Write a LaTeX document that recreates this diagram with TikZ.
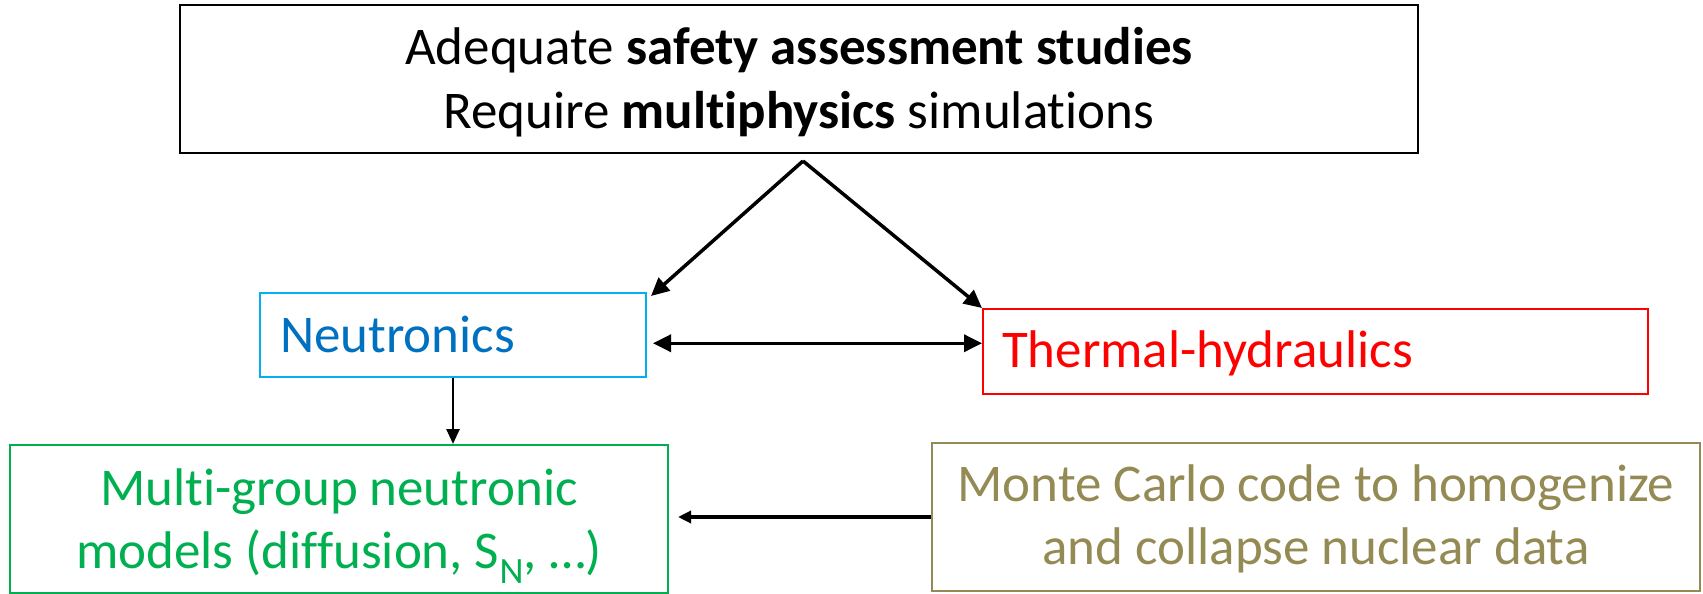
\documentclass[tikz,border=0pt]{standalone}
\usepackage{fontspec}
\setmainfont{Carlito}[Ligatures=NoCommon]
\usetikzlibrary{arrows.meta,calc}
\definecolor{neutline}{HTML}{00B0F0}
\definecolor{neuttext}{HTML}{0070C0}
\definecolor{multigreen}{HTML}{00B050}
\definecolor{mcolive}{HTML}{948A54}
\begin{document}
\begin{tikzpicture}[x=1pt, y=-1pt,
    box/.style = {draw, line width=2pt, inner sep=0pt, align=center, text height=98pt, text depth=0pt,
        font=\fontsize{53}{63}\selectfont},
    single/.style = {align=left, text height=34pt, text depth=0pt},
    link/.style = {line width=3.5pt, -{Triangle[length=18pt, width=17pt]}}]
        \useasboundingbox (0,0) rectangle (1703,594);
        \node[box, minimum width=1238pt, minimum height=148pt] (safety) at (799,79)
            {Adequate \textbf{safety assessment studies}\\Require \textbf{multiphysics} simulations};
        \node[box, single, draw=neutline, text=neuttext, text width=346pt, inner xsep=20pt,
            minimum height=84pt] (neutronics) at (453,335) {Neutronics};
        \node[box, single, draw=red, text=red, text width=627pt, inner xsep=19pt, text height=31pt,
            minimum height=85pt] (thermal) at (1315.5,351.5) {Thermal-hydraulics};
        \node[box, draw=multigreen, text=multigreen, minimum width=658pt, minimum height=148pt] (multigroup) at (339,519)
            {Multi-group neutronic\\models (diffusion, S\textsubscript{N}, \dots)};
        \node[box, draw=mcolive, text=mcolive, minimum width=768pt, minimum height=148pt, text height=94pt] (montecarlo) at (1316,517)
            {Monte Carlo code to homogenize\\and collapse nuclear data};
        \coordinate (fork) at ($(safety.south)+(4,7)$);
        \coordinate (mid) at ($(neutronics.east)!0.5!(thermal.west)$);
        \draw[link] (fork) -- ($(neutronics.north east)+(4,4)$);
        \draw[link] (fork) -- (thermal.north west);
        \draw[link, {Triangle[length=18pt, width=17pt]}-{Triangle[length=18pt, width=17pt]}, shorten <=6pt]
            (neutronics.east |- mid) -- (thermal.west |- mid);
        \draw[link, line width=2.5pt, -{Triangle[length=15pt, width=13pt]}] (neutronics.south) -- (neutronics.south |- multigroup.north);
        \draw[link, line width=3.5pt, -{Triangle[length=13pt, width=12pt]}, shorten >=9pt] (montecarlo.west) -- (montecarlo.west -| multigroup.east);
\end{tikzpicture}
\end{document}
